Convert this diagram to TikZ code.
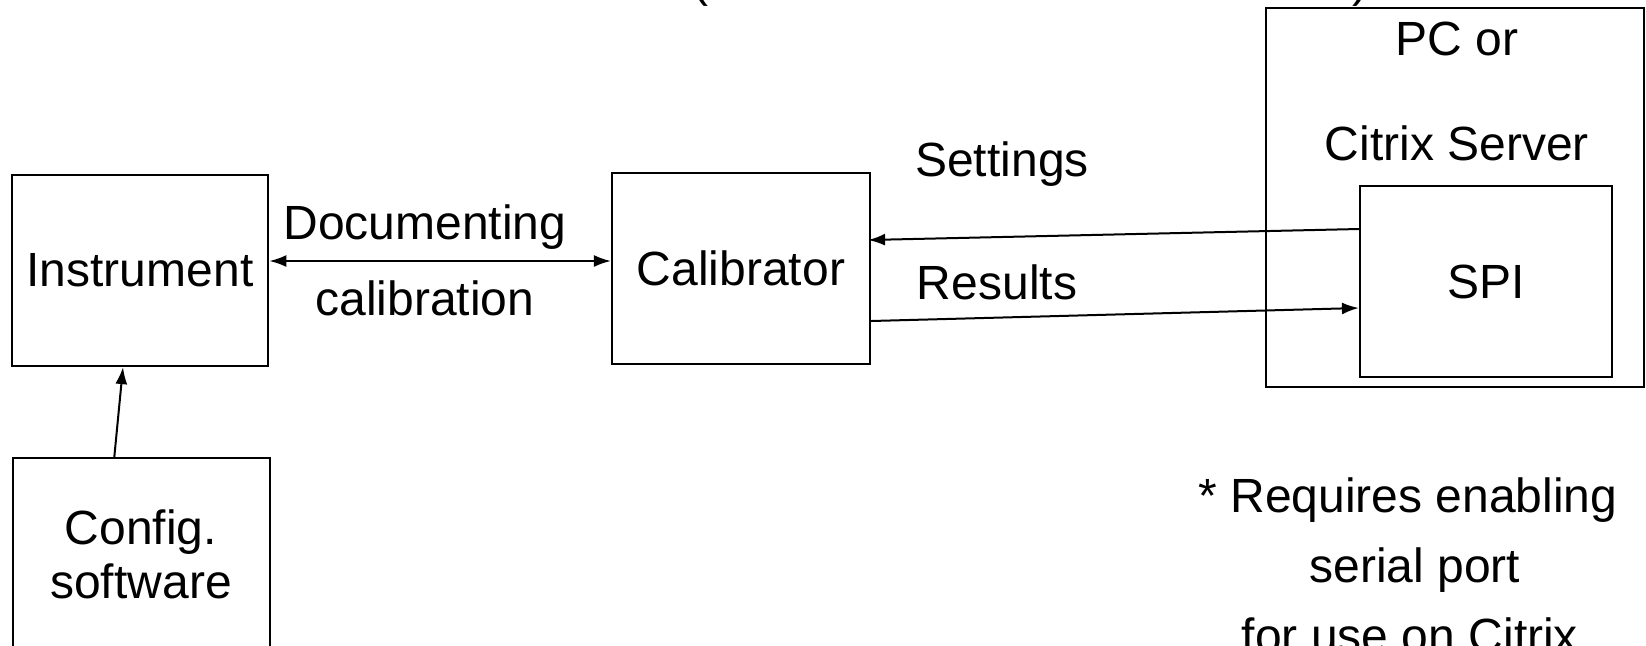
\documentclass[tikz,border=0pt]{standalone}
\usepackage{fontspec}
\setmainfont{Liberation Sans}
\usetikzlibrary{arrows.meta,calc}
\newcommand\lab{\fontsize{24}{28}\selectfont}
\begin{document}
\begin{tikzpicture}[x=0.5pt,y=-0.5pt,
  box/.style={draw, line width=1.1pt, inner sep=0pt, font=\lab, minimum height=95.5pt},
  txt/.style={font=\lab, inner sep=0pt, anchor=base},
  conn/.style={line width=1pt, -{Latex[length=8.5pt,width=6pt]}},
  conn2/.style={line width=1pt, {Latex[length=8.5pt,width=6pt]}-{Latex[length=8.5pt,width=6pt]}}]
\useasboundingbox (0,0) rectangle (1646,645);
% boxes
\node[box, minimum width=128.25pt] (instr) at (140,270.5) {Instrument};
\node[box, minimum width=129pt] (cal) at (741,268.5) {Calibrator};
\node[box, minimum width=128.7pt, minimum height=125pt, anchor=north] (cfg) at (141.3,457) {};
\node[box, minimum width=189pt, minimum height=189.5pt] (pc) at (1455,197.5) {};
\node[box, minimum width=126pt] (spi) at (1486,281.5) {SPI};
% texts
\node[txt] (t1) at (141,544) {Config.};
\node[txt] (t2) at (141,598) {software};
\node[txt] (doc1) at (425,239) {Documenting};
\node[txt] (doc2) at (425,315) {calibration};
\node[txt] (set) at (1002,176) {Settings};
\node[txt] (res) at (997,299) {Results};
\node[txt] (pc1) at (1457,55) {PC or};
\node[txt] (pc2) at (1457,160) {Citrix Server};
\node[txt] (n1) at (1408,512) {* Requires enabling};
\node[txt] (n2) at (1415,582) {serial port};
\node[txt] (n3) at (1410,652) {for use on Citrix};
\node[txt] (p1) at (700,-4) {(};
\node[txt] (p2) at (1360,-4) {)};
% connectors
\draw[conn2] ($(instr.east)+(0,-9.5)$) -- ($(cal.west)+(0,-7.5)$);
\draw[conn] ($(cfg.north)+(-27,0)$) -- ($(instr.south)+(-17,0)$);
\draw[conn] ($(spi.west)+(0,-52.5)$) -- ($(cal.east)+(-3,-28.5)$);
\draw[conn] ($(cal.east)+(0,52.5)$) -- ($(spi.west)+(0,26.5)$);
\end{tikzpicture}
\end{document}
